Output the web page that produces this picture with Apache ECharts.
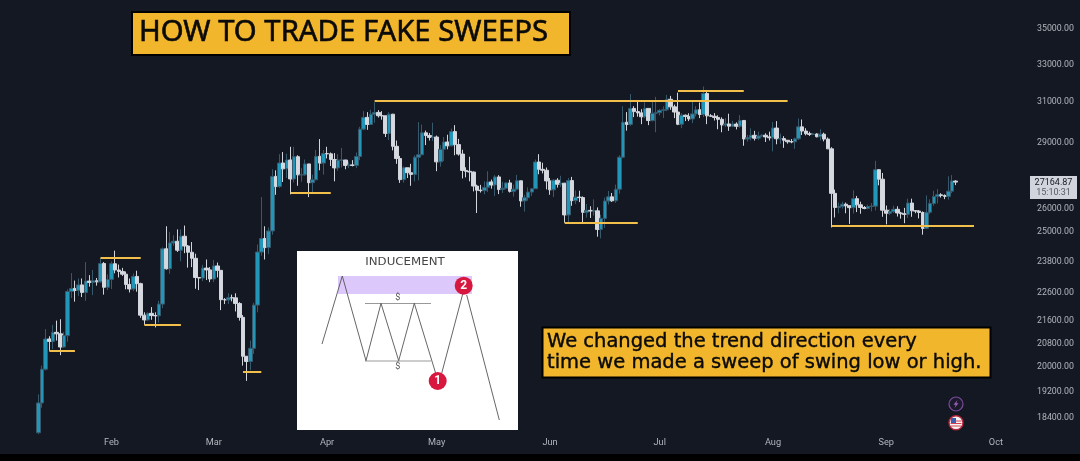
<!DOCTYPE html>
<html><head><meta charset="utf-8">
<style>html,body{margin:0;padding:0;background:#131822}#c{width:1080px;height:461px}</style>
<script src="https://cdn.jsdelivr.net/npm/echarts@6/dist/echarts.min.js"></script>
</head><body><div id="c"></div>
<script>
const closes = [
18850,19930,20954,20871,21185,21134,20677,21071,22667,22783,22707,22916,22632,23060,23009,23074,23031,23743,22826,23125,
23732,23488,23431,23326,22932,22762,23240,22963,21796,21625,21862,21783,21773,22199,24324,23538,24566,24630,24271,24838,24439,24188,23947,23198,23175,23561,23492,23141,
23646,23475,22362,22354,22435,22429,22219,21718,20363,20187,20632,22163,24197,24746,24375,25055,27423,26965,28038,27767,28175,27307,28333,27493,27494,27994,27139,27268,28348,28033,28478,
28465,28199,27812,28170,28175,27920,27950,27925,28340,29653,30235,29884,30399,30485,30318,30315,29445,30397,28822,28245,27276,27817,27591,27514,28307,28422,29473,29340,29248,29268,
28091,28680,29026,28847,29534,28904,28454,27694,27654,27621,26987,26804,26784,26930,27171,27036,27399,26832,26890,27129,26753,26851,27225,26334,26475,26719,26868,28085,27745,27702,27219,
26819,27249,27069,27115,25728,27235,26345,26498,26477,25841,25922,25896,25902,25119,25582,26328,26510,26336,26845,28307,29993,29885,30688,30527,30462,30267,30689,30077,30445,30472,
30585,30617,31156,30767,30504,29895,30344,30284,30160,30411,30620,30380,31454,30312,30292,30231,30138,29859,29910,29800,29901,29794,30083,29176,29228,29352,29212,29316,29355,29275,29230,
29705,29186,29193,29113,29042,29041,29180,29765,29561,29429,29397,29415,29283,29408,29170,28701,26664,26049,26096,26189,26124,26040,26431,26163,26047,26004,26089,26106,27727,27297,25931,
25800,25869,25969,25812,25779,25753,26240,25905,25895,25832,25162,25840,26222,26522,26600,26568,26530,26760,27211,27164.87];
const opens = [
17943,18850,19930,20954,20871,21185,21134,20677,21071,22667,22783,22707,22916,22632,23060,23009,23074,23031,23743,22826,
23125,23732,23488,23431,23326,22932,22762,23240,22963,21796,21625,21862,21783,21773,22199,24324,23538,24566,24630,24271,24838,24439,24188,23947,23198,23175,23561,23492,
23141,23646,23475,22362,22354,22435,22429,22219,21718,20363,20187,20632,22163,24197,24746,24375,25055,27423,26965,28038,27767,28175,27307,28333,27493,27494,27994,27139,27268,28348,28033,
28478,28465,28199,27812,28170,28175,27920,27950,27925,28340,29653,30235,29884,30399,30485,30318,30315,29445,30397,28822,28245,27276,27817,27591,27514,28307,28422,29473,29340,29248,
29268,28091,28680,29026,28847,29534,28904,28454,27694,27654,27621,26987,26804,26784,26930,27171,27036,27399,26832,26890,27129,26753,26851,27225,26334,26475,26719,26868,28085,27745,27702,
27219,26819,27249,27069,27115,25728,27235,26345,26498,26477,25841,25922,25896,25902,25119,25582,26328,26510,26336,26845,28307,29993,29885,30688,30527,30462,30267,30689,30077,30445,
30472,30585,30617,31156,30767,30504,29895,30344,30284,30160,30411,30620,30380,31454,30312,30292,30231,30138,29859,29910,29800,29901,29794,30083,29176,29228,29352,29212,29316,29355,29275,
29230,29705,29186,29193,29113,29042,29041,29180,29765,29561,29429,29397,29415,29283,29408,29170,28701,26664,26049,26096,26189,26124,26040,26431,26163,26047,26004,26089,26106,27727,27297,
25931,25800,25869,25969,25812,25779,25753,26240,25905,25895,25832,25162,25840,26222,26522,26600,26568,26530,26760,27211];
const highs = [
19117,20050,21300,21050,21450,21600,21650,21190,22750,23370,23080,23160,23160,23800,23290,23490,23180,23960,23800,23320,
23820,24250,23700,23570,23430,23160,23350,23460,23000,21900,21900,22090,21900,22320,24380,25250,25020,24880,25120,25120,25280,24480,24600,24130,23220,23690,23900,23600,
23880,23780,23480,22420,22600,22550,22600,22270,21800,20370,20900,22250,24500,26500,25250,25200,27750,27700,28450,28550,28470,28800,28800,28400,27800,28200,28000,27500,28650,29170,28650,
28800,28530,28500,28450,28750,28190,28100,28170,28530,29770,30550,30500,30620,31000,30600,30550,30320,30500,30410,29100,28370,27880,27820,28000,28400,30000,29880,29580,29460,29970,
29340,28880,29270,29380,29680,29850,29180,28660,27840,28330,27650,27050,27040,27200,27660,27280,27480,27480,27180,27150,27270,27050,27490,27220,26600,26930,26890,28200,28450,28050,27830,
27350,27300,27340,27450,27130,27350,27400,26800,26780,26530,26200,26100,26400,26050,25740,26480,26770,26680,27050,28400,30800,30500,31430,30800,31050,30650,31000,30700,31080,31280,
30650,30790,31380,31330,30880,31500,30450,30380,30440,31050,30800,30990,31820,31640,30400,30450,30340,30240,30200,30420,30060,29990,30350,30100,29370,29690,29570,29530,29410,29450,29530,
30000,30050,29430,29310,29100,29170,29240,30180,30130,29700,29530,29470,29450,29650,29480,29250,28780,26830,26260,26300,26260,26130,26800,26550,26300,26110,26170,26240,28140,27760,27580,
26130,25980,26120,26100,25860,26030,26430,26430,25940,25940,25880,26570,26400,26780,26850,26670,26620,27430,27480,27250];
const lows = [
17900,18700,19890,20550,20600,20900,20400,20660,20860,22420,22290,22500,22460,22320,22850,22530,22890,23000,22550,22720,
22760,23360,23200,23260,22750,22630,22680,22660,21700,21450,21600,21630,21360,21530,22050,23500,23340,24450,24200,23830,24150,23580,23600,22770,22720,23060,23100,23020,
23020,23200,21980,22200,22200,22300,21930,21600,20050,19550,19900,20440,21900,24050,23900,24120,24900,26600,26900,27170,27350,26620,27150,27000,27180,27450,26500,26650,27250,27700,27500,
28250,27900,27200,27680,27830,27750,27800,27880,27800,28170,29600,29620,29870,29970,30230,30120,29270,29120,28630,28000,27130,27140,27350,27000,27200,27240,28400,28880,29100,29080,
27660,27870,28130,28680,28810,28400,28380,27330,27380,27200,26750,25810,26700,26620,26720,26870,26550,26630,26680,26840,26700,26520,26800,26080,25870,26340,26550,26860,27520,27560,26840,
26600,26500,26920,26950,25400,25350,26120,26200,26280,25370,25620,25600,25700,24820,24750,25180,26180,26290,26250,26650,28260,29580,29810,30250,30270,29900,30200,29850,30030,29500,
30330,30200,30550,30620,30200,29850,29700,30050,30050,29950,30280,30200,30250,29900,30260,30080,29650,29500,29760,29570,29750,29640,29720,28850,29050,29100,29100,29130,29260,29030,29100,
28580,28920,28950,28750,28950,28970,28700,29130,29370,29350,29320,29360,29250,29100,29060,28700,25200,25620,25800,26000,25800,25350,25790,25850,25780,25970,25970,25880,25920,27020,25650,
25330,25720,25810,25660,25570,25380,25600,25650,25800,25580,24900,25130,25760,26120,26220,26480,26410,26390,26670,27030];
const priceTicks = [35000,33000,31000,29000,26000,25000,23800,22600,21600,20800,20000,19200,18400];
const monthNames = {1:'Jan',2:'Feb',3:'Mar',4:'Apr',5:'May',6:'Jun',7:'Jul',8:'Aug',9:'Sep',10:'Oct'};
const sweepFrom  = ['2023-01-15','2023-01-29','2023-02-10','2023-03-09','2023-03-22','2023-04-14','2023-06-05','2023-07-06','2023-08-17'];
const sweepTo    = ['2023-01-22','2023-02-09','2023-02-20','2023-03-14','2023-04-02','2023-08-05','2023-06-25','2023-07-24','2023-09-25'];
const sweepLevel = [20553,23953,21462,19850,26681,31072,25392,31575,25262];
const lastPrice = '27164.87', countdown = '15:10:31';
const titleText = 'HOW TO TRADE FAKE SWEEPS';
const noteLines = ['We changed the trend direction every','time we made a sweep of swing low or high.'];

const dates = [];
for (let i = 0; i < 281; i++) dates.push(new Date(Date.UTC(2023,0,2+i)).toISOString().slice(0,10));
const leadEmpty = dates.indexOf('2023-01-12');
const candleRows = dates.map((d,i) => {
  const k = i - leadEmpty;
  return k >= 0 && k < closes.length ? [opens[k],closes[k],lows[k],highs[k]] : ['-','-','-','-'];
});
const font = 'Roboto, "Liberation Sans", sans-serif';
const gold = '#f2c04a';
const ink = '#555';
function poly(points, stroke, w){return {type:'polyline',z:21,shape:{points},style:{stroke,lineWidth:w,fill:null}};}
function txt(x,y,text,size,fill,family,extra){return {type:'text',z:23,x,y,style:Object.assign({text,fontSize:size,fill,fontFamily:family||font,align:'center',verticalAlign:'middle'},extra||{})};}

const chart = echarts.init(document.getElementById('c'),null,{renderer:'canvas'});
chart.setOption({
  animation:false,
  backgroundColor:'#131822',
  grid:{left:0,top:0,width:1027,height:433,containLabel:false},
  xAxis:{type:'category',data:dates,boundaryGap:true,
    axisLine:{show:false},axisTick:{show:false},splitLine:{show:false},
    axisLabel:{color:'#b2b5bd',fontSize:9.2,fontFamily:font,margin:5,hideOverlap:false,
      interval:(i,v)=>v.endsWith('-01'),
      formatter:v=>monthNames[+v.slice(5,7)]}},
  yAxis:{type:'log',logBase:10,position:'right',min:17935,max:36718,scale:true,
    axisLine:{show:false},axisTick:{show:false},splitLine:{show:false},minorTick:{show:false},
    axisLabel:{color:'#b2b5bd',fontSize:8.8,fontFamily:font,margin:10,customValues:priceTicks,showMinLabel:true,showMaxLabel:true,
      formatter:v=>Number(v).toFixed(2)}},
  series:[{
    type:'candlestick',name:'BTCUSD',data:candleRows,barWidth:4,clip:true,
    itemStyle:{color:'#2196b8',color0:'#d6d9e0',borderColor:'#37596b',borderColor0:'#d2d5dc',borderWidth:1},
    markLine:{silent:true,symbol:'none',animation:false,label:{show:false},
      lineStyle:{color:gold,width:2,type:'solid'},
      data:sweepLevel.map((lv,i)=>[{coord:[sweepFrom[i],lv]},{coord:[sweepTo[i],lv]}])}
  }],
  graphic:{elements:[
    {type:'rect',z:30,shape:{x:0,y:454,width:1080,height:7},style:{fill:'#000'}},
    // title banner
    {type:'rect',z:20,shape:{x:132,y:12,width:438,height:43},style:{fill:'#f2b62c',stroke:'#000',lineWidth:2}},
    {type:'text',z:23,x:139,y:33,style:{text:titleText,fontSize:29.3,fill:'#0a0a0a',stroke:'#0a0a0a',lineWidth:0.6,fontFamily:'"Noto Sans"',align:'left',verticalAlign:'middle'}},
    // note banner
    {type:'rect',z:20,shape:{x:542.5,y:327.5,width:448,height:50},style:{fill:'#f2b62c',stroke:'#000',lineWidth:2}},
    {type:'text',z:23,x:547,y:342,style:{text:noteLines[0],fontSize:19.5,fill:'#0a0a0a',stroke:'#0a0a0a',lineWidth:0.4,fontFamily:'"DejaVu Sans"',align:'left',verticalAlign:'middle'}},
    {type:'text',z:23,x:547,y:363,style:{text:noteLines[1],fontSize:19.5,fill:'#0a0a0a',stroke:'#0a0a0a',lineWidth:0.4,fontFamily:'"DejaVu Sans"',align:'left',verticalAlign:'middle'}},
    // inset
    {type:'rect',z:20,shape:{x:297,y:251,width:221,height:179},style:{fill:'#fff'}},
    {type:'text',z:23,x:405,y:262,scaleX:1.18,style:{text:'INDUCEMENT',fontSize:10,fill:'#444',fontFamily:'"DejaVu Sans"',align:'center',verticalAlign:'middle'}},
    {type:'rect',z:21,shape:{x:338,y:276,width:134,height:18},style:{fill:'#dcc8fa'}},
    poly([[365,303.5],[431,303.5]],'#999',1),
    poly([[365,361],[431,361]],'#999',1),
    poly([[322,344],[342.3,276],[366,360.7],[381,303.3],[398.7,360.7],[414.3,303.3],[435.7,373.3]],ink,0.9),
    poly([[441.7,373.3],[463.3,291.7]],ink,0.9),
    poly([[466.7,295],[499.3,420]],ink,0.9),
    txt(397.7,298,'$',9,'#555'),
    txt(397.7,367,'$',9,'#555'),
    {type:'circle',z:22,shape:{cx:437.7,cy:381,r:9},style:{fill:'#d8173f'}},
    {type:'circle',z:22,shape:{cx:463.7,cy:285.7,r:9},style:{fill:'#d8173f'}},
    txt(437.7,381,'1',12,'#fff',font,{fontWeight:'bold'}),
    txt(463.7,285.7,'2',12,'#fff',font,{fontWeight:'bold'}),
    // last price box
    {type:'rect',z:20,shape:{x:1030,y:176,width:47,height:23},style:{fill:'#d1d4dc'}},
    txt(1053.5,182.5,lastPrice,9,'#131722'),
    txt(1053.5,193,countdown,9,'#555a66'),
    // event icons
    {type:'circle',z:20,shape:{cx:956,cy:404,r:7},style:{fill:'#1b1a2a',stroke:'#7b4aa0',lineWidth:1.2}},
    {type:'polygon',z:21,shape:{points:[[957.5,400],[953.5,404.8],[955.7,404.8],[954.5,408],[958.5,403.2],[956.3,403.2]]},style:{fill:'#9b5fc0'}},
    {type:'circle',z:20,shape:{cx:956,cy:422.7,r:7},style:{fill:'#f4f4f6',stroke:'#b3283a',lineWidth:1.4}},
    {type:'rect',z:21,shape:{x:950.5,y:420.5,width:11,height:1},style:{fill:'#d8404f'}},
    {type:'rect',z:21,shape:{x:950.5,y:423,width:11,height:1},style:{fill:'#d8404f'}},
    {type:'rect',z:21,shape:{x:951,y:425.5,width:10,height:1},style:{fill:'#d8404f'}},
    {type:'rect',z:22,shape:{x:951,y:418,width:5,height:5},style:{fill:'#3a5fb0'}}
  ]}
});
</script></body></html>
